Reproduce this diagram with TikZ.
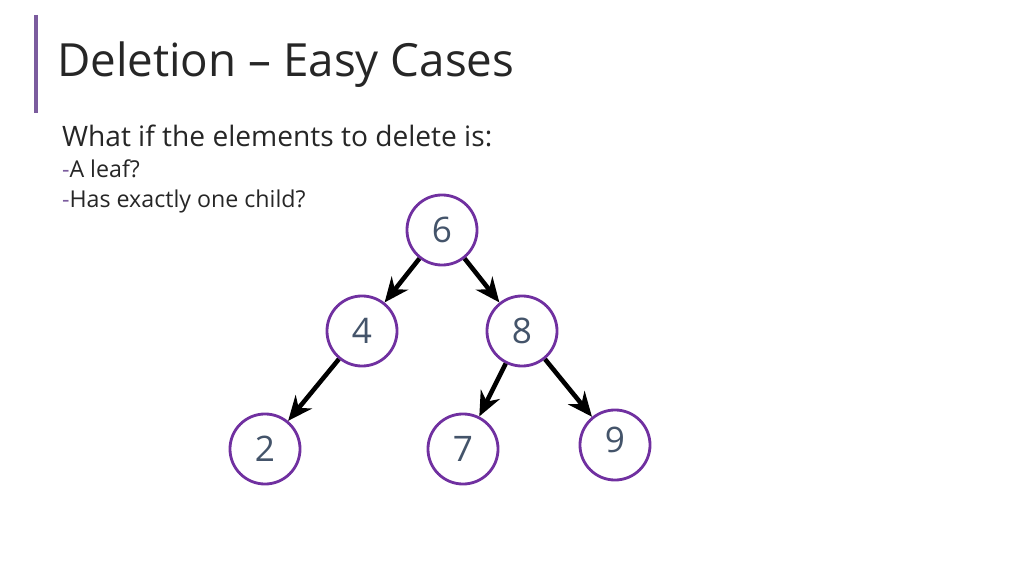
\documentclass[tikz,border=0pt]{standalone}
\usepackage{fontspec}
\setmainfont{Open Sans}
\usetikzlibrary{arrows.meta}
\definecolor{barpurple}{HTML}{7B5C9E}
\definecolor{nodepurple}{HTML}{7030A0}
\definecolor{slate}{HTML}{44546A}
\begin{document}
\begin{tikzpicture}[x=0.01cm,y=-0.01cm,->,>={Stealth[length=7pt,width=6pt]},semithick]
        \tikzset{every node/.style={inner sep=0pt},
                 key/.style={circle,draw=nodepurple,thick,minimum size=0.7cm,text=slate,font=\fontsize{10}{12}\selectfont},
                 link/.style={line width=1.3pt,black}}
        \useasboundingbox (0,0) rectangle (1024,576);
        \draw[-,barpurple,line width=1pt] (36,15) -- (36,113);
        \node[anchor=base west,font=\fontsize{13}{15}\selectfont,text=black!85] (title) at (56,77) {Deletion -- Easy Cases};
        \node[anchor=base west,font=\fontsize{8}{10}\selectfont,text=black!85] (q) at (61,147) {What if the elements to delete is:};
        \node[anchor=base west,font=\fontsize{6.6}{8}\selectfont,text=black!85] (b1) at (61,178) {\textcolor{barpurple}{-}A leaf?};
        \node[anchor=base west,font=\fontsize{6.6}{8}\selectfont,text=black!85] (b2) at (61,208) {\textcolor{barpurple}{-}Has exactly one child?};

        \node[key] (n6) at (442,230) {6};
        \node[key] (n4) at (362,331) {4};
        \node[key] (n8) at (522,331) {8};
        \node[key] (n2) at (265,449) {2};
        \node[key] (n7) at (463,449) {7};
        \node[key] (n9) at (615,445) {\raisebox{3pt}{9}};

        \draw[link] (n6) -- (n4);
        \draw[link] (n6) -- (n8);
        \draw[link] (n4) -- (n2);
        \draw[link] (n8) -- (n7);
        \draw[link] (n8) -- (n9);
\end{tikzpicture}
\end{document}
